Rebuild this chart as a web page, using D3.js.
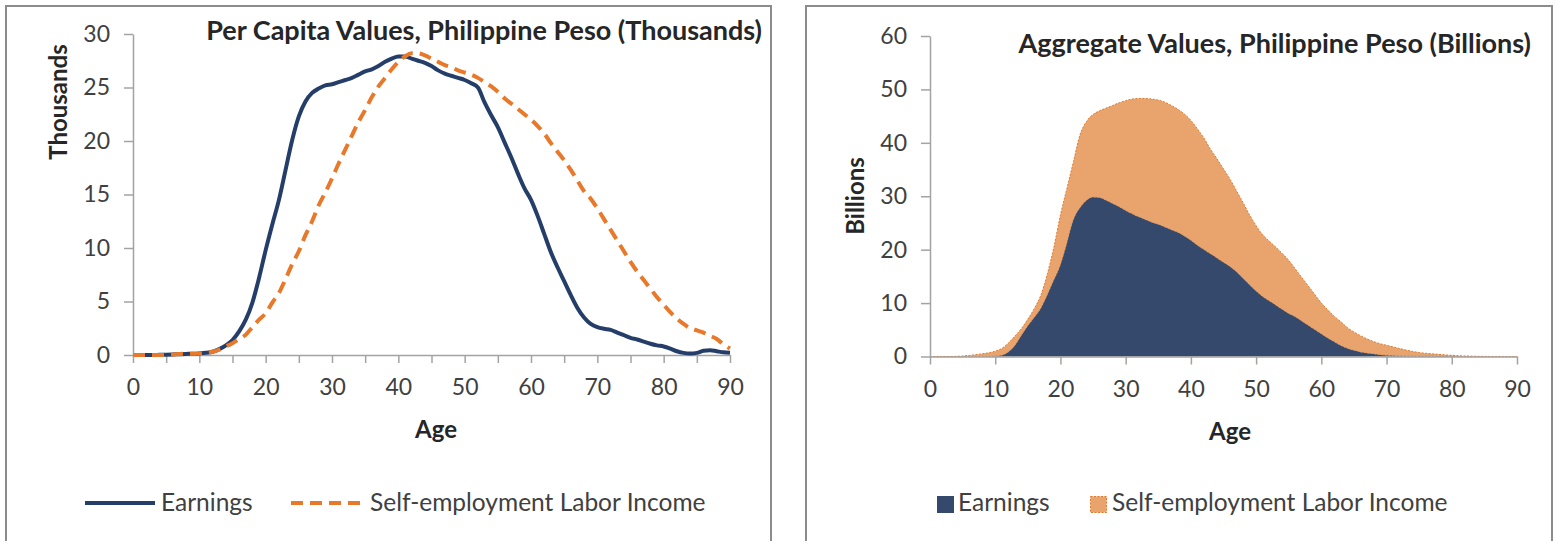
<!DOCTYPE html>
<html><head><meta charset="utf-8">
<script src="https://cdn.jsdelivr.net/npm/d3@7"></script>
<style>body{margin:0;background:#fff} svg{display:block} text{font-family:Lato, "Open Sans", sans-serif}</style>
</head><body><svg id="c" width="1562" height="541"></svg>
<script>
// ---------- DATA ----------
const ages = d3.range(0, 91);
const seriesNames = ["Earnings", "Self-employment Labor Income"];
const perCapitaTitle = "Per Capita Values, Philippine Peso (Thousands)";
const aggregateTitle = "Aggregate Values, Philippine Peso (Billions)";
const perCapitaYLabel = "Thousands";
const aggregateYLabel = "Billions";
const xLabel = "Age";
const perCapitaYTicks = [0, 5, 10, 15, 20, 25, 30];
const aggregateYTicks = [0, 10, 20, 30, 40, 50, 60];
const perCapitaXTicks = [0,5,10,15,20,25,30,35,40,45,50,55,60,65,70,75,80,85,90];
const aggregateXTicks = [0, 10, 20, 30, 40, 50, 60, 70, 80, 90];

// Per capita (thousands of pesos), ages 0..90
const perCapitaEarnings = [
  0,0,0,0,0.02,0.03,0.05,0.08,0.1,0.12,
  0.15,0.2,0.3,0.55,0.9,1.4,2.2,3.3,4.9,7.2,
  9.8,12.2,14.5,17.3,20.1,22.3,23.7,24.5,24.9,25.2,
  25.3,25.5,25.7,25.9,26.2,26.5,26.7,27.0,27.4,27.7,
  27.9,27.9,27.7,27.5,27.3,27.0,26.6,26.3,26.1,25.9,
  25.7,25.4,25.0,23.6,22.4,21.3,19.9,18.5,17.0,15.6,
  14.5,13.0,11.3,9.6,8.2,6.9,5.6,4.4,3.5,2.9,
  2.6,2.45,2.35,2.1,1.85,1.6,1.45,1.25,1.05,0.9,
  0.8,0.6,0.35,0.2,0.15,0.2,0.4,0.45,0.35,0.25,0.2
];
const perCapitaSelfEmployment = [
  0,0,0,0,0,0.02,0.05,0.1,0.12,0.12,
  0.15,0.2,0.3,0.5,0.8,1.1,1.5,1.9,2.6,3.3,
  3.9,4.9,5.8,7.1,8.5,9.7,11.2,12.5,14.0,15.2,
  16.5,17.9,19.2,20.5,21.8,22.9,24.1,25.1,25.9,26.7,
  27.4,27.9,28.2,28.2,28.0,27.7,27.4,27.1,26.9,26.6,
  26.4,26.2,25.9,25.5,25.1,24.6,24.0,23.5,23.0,22.5,
  22.0,21.4,20.7,19.8,19.0,18.2,17.3,16.3,15.3,14.6,
  13.7,12.7,11.7,10.7,9.7,8.7,7.8,7.0,6.2,5.4,
  4.7,4.0,3.4,2.9,2.5,2.3,2.1,1.8,1.5,1.0,0.6
];
// Aggregate (billions of pesos), ages 0..90
const aggregateEarnings = [
  0,0,0,0,0,0,0,0,0,0,
  0.05,0.2,0.8,2.0,3.9,5.7,7.3,9.0,11.5,14.3,
  17.1,21.2,25.6,27.8,29.2,29.8,29.7,29.2,28.6,28.0,
  27.3,26.7,26.1,25.6,25.1,24.7,24.2,23.7,23.2,22.5,
  21.7,20.8,20.0,19.2,18.4,17.6,16.8,15.8,14.6,13.4,
  12.2,11.2,10.4,9.6,8.8,8.0,7.4,6.6,5.8,5.0,
  4.2,3.4,2.7,2.0,1.5,1.1,0.8,0.6,0.45,0.3,
  0.2,0.15,0.1,0.05,0.05,0.05,0.05,0.04,0.03,0.03,
  0.02,0.02,0.01,0.01,0,0,0,0,0,0,0
];
const aggregateSelfEmployment = [
  0,0,0,0,0.02,0.1,0.2,0.35,0.5,0.7,
  0.95,1.3,1.7,1.8,1.3,1.3,1.7,2.5,4.0,6.2,
  9.4,10.3,10.9,13.7,14.8,15.5,16.3,17.3,18.4,19.5,
  20.6,21.5,22.2,22.7,23.1,23.3,23.4,23.3,23.1,22.9,
  22.5,21.8,20.9,19.6,18.6,17.5,16.4,15.2,14.2,13.1,
  12.3,11.6,11.2,10.9,10.5,10.0,9.0,8.2,7.4,6.6,
  5.8,5.3,4.8,4.5,3.9,3.5,3.1,2.7,2.35,2.1,
  1.9,1.65,1.4,1.15,0.9,0.7,0.55,0.46,0.37,0.27,
  0.2,0.13,0.09,0.05,0.03,0.01,0,0,0,0,0
];

// ---------- STYLE ----------
const navy = "#253E69", orange = "#E8792B";
const navyFill = "#34496B", orangeFill = "#E8A46C", orangeEdge = "#E07A2C";
const axisColor = "#A3A3A3", tickText = "#404040", titleColor = "#262626";
const tickFont = 23, titleFont = 27, axisTitleFont = 24, legendFont = 24.5;

const svg = d3.select("#c");

// panel borders
svg.append("rect").attr("x", 6).attr("y", 6).attr("width", 765).attr("height", 560)
  .attr("fill", "none").attr("stroke", "#8C8C8C").attr("stroke-width", 2);
svg.append("rect").attr("x", 806).attr("y", 6).attr("width", 746).attr("height", 560)
  .attr("fill", "none").attr("stroke", "#8C8C8C").attr("stroke-width", 2);

function styleAxis(g) {
  g.selectAll("path, line").attr("stroke", axisColor).attr("stroke-width", 1.5);
  g.selectAll("text").attr("fill", tickText).attr("font-size", tickFont).attr("font-family", "Lato, sans-serif");
}

// ---------- LEFT: per capita ----------
const xL = d3.scaleLinear().domain([0, 90]).range([133, 730]);
const yL = d3.scaleLinear().domain([0, 30]).range([355, 34]);

svg.append("g").attr("transform", "translate(133,0)")
  .call(d3.axisLeft(yL).tickValues(perCapitaYTicks).tickSize(9).tickSizeOuter(0).tickPadding(14))
  .call(styleAxis);
svg.append("g").attr("transform", "translate(0,355)")
  .call(d3.axisBottom(xL).tickValues(perCapitaXTicks).tickSize(8).tickSizeOuter(0).tickPadding(16)
    .tickFormat(d => d % 10 === 0 ? d : ""))
  .call(styleAxis);

const lineL = (arr) => d3.line().x((d, i) => xL(ages[i])).y(d => yL(d)).curve(d3.curveMonotoneX)(arr);
svg.append("path").attr("d", lineL(perCapitaEarnings)).attr("fill", "none")
  .attr("stroke", navy).attr("stroke-width", 4).attr("stroke-linejoin", "round");
svg.append("path").attr("d", lineL(perCapitaSelfEmployment)).attr("fill", "none")
  .attr("stroke", orange).attr("stroke-width", 4).attr("stroke-dasharray", "12,7");

svg.append("text").attr("x", 762).attr("y", 40).attr("text-anchor", "end")
  .attr("font-size", titleFont).attr("font-weight", "bold").attr("fill", titleColor).text(perCapitaTitle);
svg.append("text").attr("transform", "translate(67,102) rotate(-90)").attr("text-anchor", "middle")
  .attr("font-size", axisTitleFont).attr("font-weight", "bold").attr("fill", titleColor).text(perCapitaYLabel);
svg.append("text").attr("x", 436).attr("y", 438).attr("text-anchor", "middle")
  .attr("font-size", axisTitleFont).attr("font-weight", "bold").attr("fill", titleColor).text(xLabel);

// legend left
svg.append("line").attr("x1", 85).attr("x2", 155).attr("y1", 503).attr("y2", 503)
  .attr("stroke", navy).attr("stroke-width", 4);
svg.append("text").attr("x", 161).attr("y", 511).attr("font-size", legendFont).attr("fill", tickText).text(seriesNames[0]);
svg.append("line").attr("x1", 291).attr("x2", 363).attr("y1", 503).attr("y2", 503)
  .attr("stroke", orange).attr("stroke-width", 4).attr("stroke-dasharray", "12,7");
svg.append("text").attr("x", 370).attr("y", 511).attr("font-size", legendFont).attr("fill", tickText).text(seriesNames[1]);

// ---------- RIGHT: aggregate ----------
const xR = d3.scaleLinear().domain([0, 90]).range([930, 1517]);
const yR = d3.scaleLinear().domain([0, 60]).range([356.5, 36]);

const rows = ages.map((a, i) => ({ age: a, earn: aggregateEarnings[i], self: aggregateSelfEmployment[i] }));
const stack = d3.stack().keys(["earn", "self"])(rows);
const areaR = d3.area().x(d => xR(d.data.age)).y0(d => yR(d[0])).y1(d => yR(d[1])).curve(d3.curveMonotoneX);

svg.append("path").attr("d", areaR(stack[1])).attr("fill", orangeFill)
  .attr("stroke", orangeEdge).attr("stroke-width", 1).attr("stroke-dasharray", "2,1.5");
svg.append("path").attr("d", areaR(stack[0])).attr("fill", navyFill);

svg.append("g").attr("transform", "translate(930,0)")
  .call(d3.axisLeft(yR).tickValues(aggregateYTicks).tickSize(9).tickSizeOuter(0).tickPadding(14))
  .call(styleAxis);
svg.append("g").attr("transform", "translate(0,356.5)")
  .call(d3.axisBottom(xR).tickValues(aggregateXTicks).tickSize(8).tickSizeOuter(0).tickPadding(16))
  .call(styleAxis);

svg.append("text").attr("x", 1531).attr("y", 53).attr("text-anchor", "end")
  .attr("font-size", titleFont).attr("font-weight", "bold").attr("fill", titleColor).text(aggregateTitle);
svg.append("text").attr("transform", "translate(864,196) rotate(-90)").attr("text-anchor", "middle")
  .attr("font-size", axisTitleFont).attr("font-weight", "bold").attr("fill", titleColor).text(aggregateYLabel);
svg.append("text").attr("x", 1230).attr("y", 440).attr("text-anchor", "middle")
  .attr("font-size", axisTitleFont).attr("font-weight", "bold").attr("fill", titleColor).text(xLabel);

// legend right
svg.append("rect").attr("x", 937).attr("y", 496).attr("width", 17).attr("height", 17).attr("fill", navyFill);
svg.append("text").attr("x", 958).attr("y", 511).attr("font-size", legendFont).attr("fill", tickText).text(seriesNames[0]);
svg.append("rect").attr("x", 1090.5).attr("y", 496.5).attr("width", 16).attr("height", 16).attr("fill", orangeFill)
  .attr("stroke", orangeEdge).attr("stroke-width", 1).attr("stroke-dasharray", "2,1.5");
svg.append("text").attr("x", 1112).attr("y", 511).attr("font-size", legendFont).attr("fill", tickText).text(seriesNames[1]);
</script>
</body></html>
